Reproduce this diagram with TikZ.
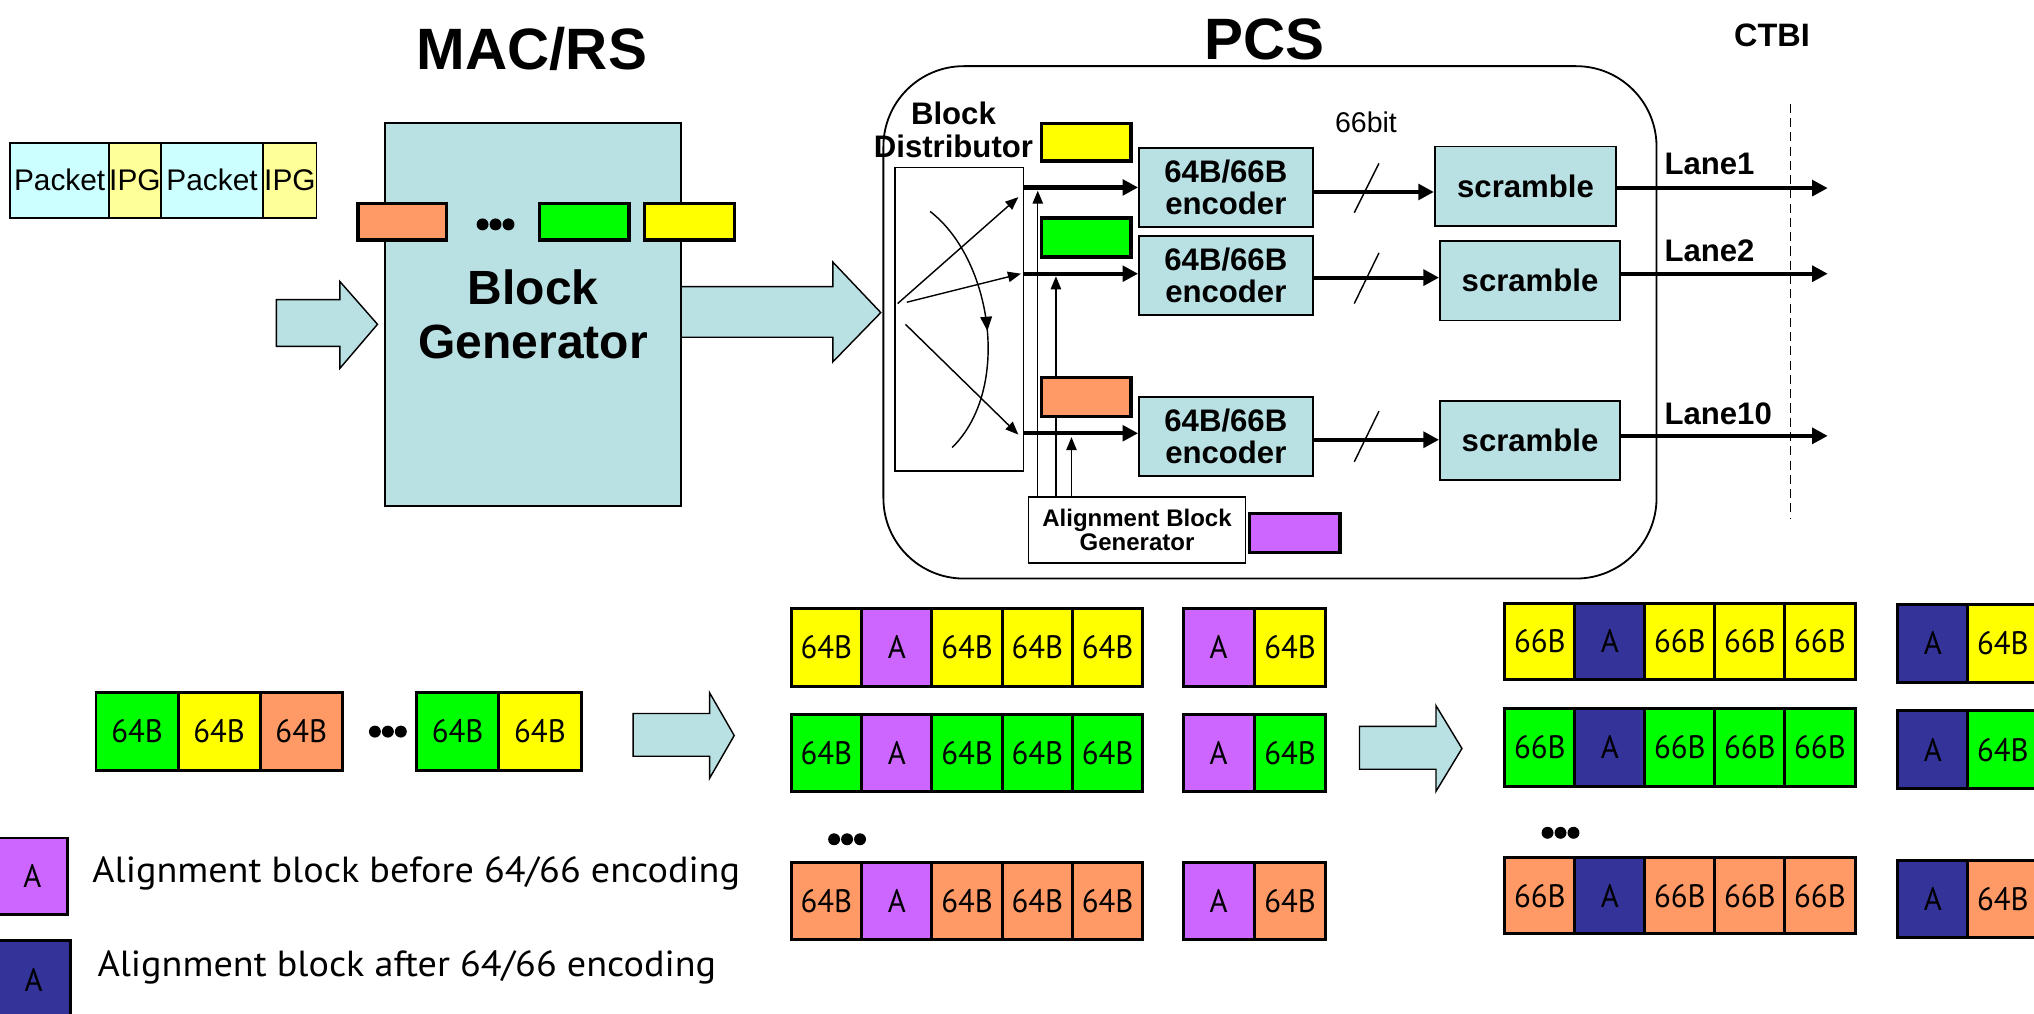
\documentclass[tikz,border=0pt]{standalone}
\usepackage{fontspec}
\setmainfont{Liberation Sans}
\newfontfamily\ptfont[FakeStretch=1.05]{PT Sans}
\newfontfamily\ptcell[FakeStretch=0.95]{PT Sans}
\usetikzlibrary{arrows.meta,decorations.markings}
\definecolor{lb}{HTML}{B9E0E3}
\definecolor{yel}{HTML}{FFFF00}
\definecolor{grn}{HTML}{00FF00}
\definecolor{org}{HTML}{FF9966}
\definecolor{pur}{HTML}{CC66FF}
\definecolor{dbl}{HTML}{333399}
\definecolor{pk}{HTML}{CCFFFF}
\definecolor{ipg}{HTML}{FFFF99}
\newcommand\mkbox[7]{\node[#6, minimum width={(#4)-(#2)}, minimum height={(#5)-(#3)}] (#1) at ({((#2)+(#4))/2},{((#3)+(#5))/2}) {#7};}
\newcommand\cellrow[6]{\foreach \t/\c [count=\k from 0] in {#6} {\mkbox{#1\k}{#2+#3*\k}{#4}{#2+#3*\k+#3}{#5}{cell,fill=\c}{\t}}}
\newcommand\threedots[2]{\foreach \d in {-10,0,10} {\fill (#1+\d,#2) circle (4.6pt);}}
\begin{document}
\begin{tikzpicture}[x=1pt,y=-1pt,
  lbbox/.style={draw=black, fill=lb, line width=1.3pt, inner sep=0pt, align=center},
  cblk/.style={draw=black, line width=2.6pt, inner sep=0pt},
  cell/.style={draw=black, line width=2.3pt, inner sep=0pt, font=\ptcell\fontsize{25}{25}\selectfont},
  pbox/.style={draw=black, line width=1.5pt, inner sep=0pt, font=\fontsize{23}{23}\selectfont},
  fat/.style={draw=black, fill=lb, line width=1.1pt, line join=miter},
  heavy/.style={line width=3.2pt, -{Triangle[length=12pt,width=12pt]}},
  thinarr/.style={line width=1.1pt, -{Triangle[length=10pt,width=8pt]}},
  lbl/.style={font=\bfseries\fontsize{24}{25}\selectfont, inner sep=0pt, align=center}
]
\clip (0,0) rectangle (1568,781);
\useasboundingbox (0,0) rectangle (1568,781);
\fill[white] (0,0) rectangle (1568,781);

% titles
\node[font=\bfseries\fontsize{45}{45}\selectfont] (tmac) at (410,38) {MAC/RS};
\node[font=\bfseries\fontsize{45}{45}\selectfont] (tpcs) at (975,30) {PCS};
\node[font=\bfseries\fontsize{25}{25}\selectfont] (tctbi) at (1366,27) {CTBI};

% packet bar
\mkbox{p1}{8}{110}{84}{168}{pbox,fill=pk}{Packet}
\mkbox{p2}{84}{110}{124}{168}{pbox,fill=ipg}{IPG}
\mkbox{p3}{124}{110}{203}{168}{pbox,fill=pk}{Packet}
\mkbox{p4}{203}{110}{244}{168}{pbox,fill=ipg}{IPG}

% fat arrows (upper)
\draw[fat] (213,231) -- (262,231) -- (262,217) -- (291,250) -- (262,284) -- (262,267) -- (213,267) -- cycle;
\draw[fat] (520,221) -- (642,221) -- (642,202) -- (679,241) -- (642,279) -- (642,260) -- (520,260) -- cycle;

% block generator
\mkbox{bg}{297}{95}{525}{390}{lbbox,font=\bfseries\fontsize{37}{42}\selectfont}{Block\\Generator}
\mkbox{bgo}{276}{157}{344}{185}{cblk,fill=org}{}
\mkbox{bgg}{416}{157}{485}{185}{cblk,fill=grn}{}
\mkbox{bgy}{497}{157}{566}{185}{cblk,fill=yel}{}
\threedots{382}{173}

% PCS box
\mkbox{pcs}{681}{51}{1277}{446}{draw=black, line width=1.4pt, rounded corners=62pt}{}
\node[lbl] (bdl) at (735,100) {Block\\Distributor};
\mkbox{dist}{690}{129}{789}{363}{draw=black, line width=1.1pt, fill=white}{}
% distributor internals
\draw[thinarr] (692,234) -- (785,152);
\draw[thinarr] (699,233) -- (787,211);
\draw[thinarr] (698,250) -- (785,335);
\draw[line width=1.1pt, decoration={markings, mark=at position 0.52 with {\arrow{Triangle[length=11pt,width=9pt]}}}, postaction={decorate}]
  (717,163) .. controls (765,200) and (780,300) .. (734,345);

% encoders
\mkbox{enc1}{878}{114}{1012}{175}{lbbox,font=\bfseries\fontsize{24}{25}\selectfont}{64B/66B\\encoder}
\mkbox{enc2}{878}{182}{1012}{243}{lbbox,font=\bfseries\fontsize{24}{25}\selectfont}{64B/66B\\encoder}
\mkbox{enc3}{878}{306}{1012}{367}{lbbox,font=\bfseries\fontsize{24}{25}\selectfont}{64B/66B\\encoder}

% scramblers
\mkbox{scr1}{1106}{113}{1246}{174}{lbbox,font=\bfseries\fontsize{24}{25}\selectfont}{scramble}
\mkbox{scr2}{1110}{186}{1249}{247}{lbbox,font=\bfseries\fontsize{24}{25}\selectfont}{scramble}
\mkbox{scr3}{1110}{309}{1249}{370}{lbbox,font=\bfseries\fontsize{24}{25}\selectfont}{scramble}

% alignment block generator and vertical feeds
\mkbox{abg}{793}{383}{960}{434}{draw=black, line width=1.1pt, fill=white, align=center, font=\bfseries\fontsize{18.5}{19}\selectfont}{Alignment Block\\Generator}
\coordinate (v1) at (800,147);
\coordinate (v2) at (814,213);
\coordinate (v3) at (826,337);
\draw[thinarr] (abg.north -| v1) -- (v1);
\draw[thinarr] (abg.north -| v2) -- (v2);
\draw[thinarr] (abg.north -| v3) -- (v3);

% lane inputs from distributor
\draw[heavy] (dist.east |- enc1.west) -- (enc1.west);
\draw[heavy] (dist.east |- 0,211) -- (enc2.west |- 0,211);
\draw[heavy] (dist.east |- 0,334) -- (enc3.west |- 0,334);

% colored blocks inside PCS
\mkbox{py}{803}{95}{872}{124}{cblk,fill=yel}{}
\mkbox{pg}{803}{168}{872}{198}{cblk,fill=grn}{}
\mkbox{po}{803}{291}{872}{321}{cblk,fill=org}{}
\mkbox{pp}{963}{396}{1033}{426}{cblk,fill=pur}{}

% encoder -> scrambler
\coordinate (e1) at (1012,148);
\coordinate (e2) at (1012,214);
\coordinate (e3) at (1012,339);
\draw[heavy] (e1) -- (scr1.west |- e1);
\draw[heavy] (e2) -- (scr2.west |- e2);
\draw[heavy] (e3) -- (scr3.west |- e3);
\draw[line width=1.1pt] (1044,164) -- (1063,126);
\draw[line width=1.1pt] (1044,234) -- (1063,195);
\draw[line width=1.1pt] (1044,356) -- (1063,317);
\node[font=\fontsize{22}{22}\selectfont] (bits) at (1053,94) {66bit};

% lanes out
\coordinate (o1) at (1409,145);
\coordinate (o2) at (1409,211);
\coordinate (o3) at (1409,336);
\draw[heavy] (scr1.east |- o1) -- (o1);
\draw[heavy] (scr2.east |- o2) -- (o2);
\draw[heavy] (scr3.east |- o3) -- (o3);
\node[lbl, anchor=west] (l1) at (1283,126) {Lane1};
\node[lbl, anchor=west] (l2) at (1283,193) {Lane2};
\node[lbl, anchor=west] (l3) at (1283,319) {Lane10};
\draw[line width=1pt, dash pattern=on 7pt off 4pt] (1380,80) -- (1380,400);

% bottom: input sequence
\cellrow{s}{74}{63.3}{534}{594}{64B/grn,64B/yel,64B/org}
\cellrow{t}{321}{63.5}{534}{594}{64B/grn,64B/yel}
\threedots{299}{564}
\draw[fat] (488,550) -- (547,550) -- (547,534) -- (566,567) -- (547,600) -- (547,583) -- (488,583) -- cycle;

% bottom: before encoding
\cellrow{ma}{610}{54.2}{469}{529}{64B/yel,A/pur,64B/yel,64B/yel,64B/yel}
\cellrow{mb}{610}{54.2}{551}{610}{64B/grn,A/pur,64B/grn,64B/grn,64B/grn}
\cellrow{mc}{610}{54.2}{665}{724}{64B/org,A/pur,64B/org,64B/org,64B/org}
\threedots{653}{647}
\cellrow{na}{912}{55}{469}{529}{A/pur,64B/yel}
\cellrow{nb}{912}{55}{551}{610}{A/pur,64B/grn}
\cellrow{nc}{912}{55}{665}{724}{A/pur,64B/org}
\draw[fat] (1048,560) -- (1107,560) -- (1107,544) -- (1127,577) -- (1107,610) -- (1107,593) -- (1048,593) -- cycle;

% bottom: after encoding
\cellrow{ra}{1160}{54}{465}{524}{66B/yel,A/dbl,66B/yel,66B/yel,66B/yel}
\cellrow{rb}{1160}{54}{546}{606}{66B/grn,A/dbl,66B/grn,66B/grn,66B/grn}
\cellrow{rc}{1160}{54}{661}{720}{66B/org,A/dbl,66B/org,66B/org,66B/org}
\threedots{1203}{642}
\cellrow{qa}{1463}{54}{466}{526}{A/dbl,64B/yel}
\cellrow{qb}{1463}{54}{548}{608}{A/dbl,64B/grn}
\cellrow{qc}{1463}{54}{663}{723}{A/dbl,64B/org}

% legend
\mkbox{lg1}{-2}{646}{52}{705}{cell,fill=pur}{A}
\mkbox{lg2}{-2}{725}{54}{786}{cell,fill=dbl}{A}
\node[anchor=west, inner sep=0pt, font=\ptfont\fontsize{28}{28}\selectfont] (lt1) at (71,673) {Alignment block before 64/66 encoding};
\node[anchor=west, inner sep=0pt, font=\ptfont\fontsize{28}{28}\selectfont] (lt2) at (75,746) {Alignment block after 64/66 encoding};
\end{tikzpicture}
\end{document}
